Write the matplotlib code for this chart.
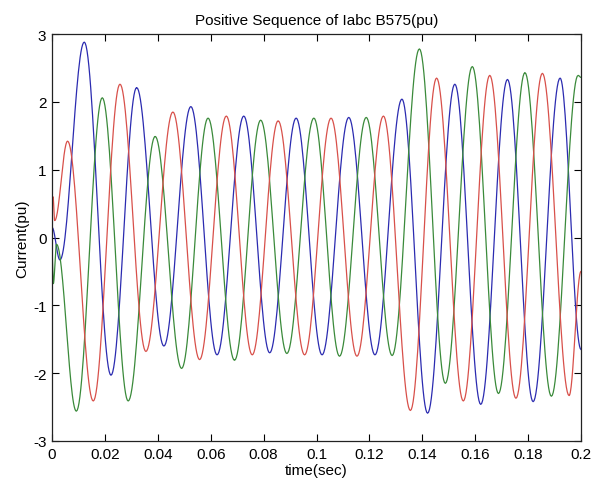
import numpy as np
import matplotlib
matplotlib.use("Agg")
import matplotlib.pyplot as plt

plt.rcParams['font.family'] = ['Liberation Sans', 'DejaVu Sans']
plt.rcParams['axes.unicode_minus'] = False

# Extrema (time in s, current in pu) for each phase
red_t = [0.0, 0.0004, 0.0010, 0.0059, 0.0156, 0.0257, 0.0355, 0.0457, 0.0558, 0.0659,
         0.0757, 0.0855, 0.0955, 0.1055, 0.1153, 0.1253, 0.1355, 0.1454, 0.1555, 0.1655,
         0.1754, 0.1854, 0.1955, 0.2]
red_v = [0.45, 0.6, 0.25, 1.42, -2.41, 2.26, -1.68, 1.85, -1.80, 1.79,
         -1.73, 1.72, -1.73, 1.76, -1.75, 1.79, -2.55, 2.35, -2.41, 2.39,
         -2.37, 2.42, -2.33, -0.5]

blue_t = [0.0, 0.003, 0.0122, 0.0223, 0.032, 0.0423, 0.0525, 0.0624, 0.0725, 0.0823,
          0.0923, 0.1021, 0.1122, 0.1221, 0.1323, 0.142, 0.1523, 0.1621, 0.1722, 0.1819,
          0.1921, 0.2]
blue_v = [0.15, -0.33, 2.88, -2.03, 2.21, -1.60, 1.93, -1.73, 1.79, -1.70,
          1.76, -1.73, 1.77, -1.73, 2.04, -2.59, 2.26, -2.46, 2.33, -2.42,
          2.35, -1.65]

green_t = [0.0, 0.0005, 0.0017, 0.0092, 0.019, 0.0288, 0.039, 0.049, 0.059, 0.069,
           0.0789, 0.0888, 0.099, 0.1087, 0.1188, 0.1286, 0.1389, 0.1487, 0.1589, 0.1688,
           0.1788, 0.1888, 0.1989, 0.2]
green_v = [-0.2, -0.68, -0.1, -2.56, 2.06, -2.41, 1.49, -1.93, 1.76, -1.81,
           1.73, -1.71, 1.76, -1.75, 1.77, -1.74, 2.78, -2.15, 2.52, -2.30,
           2.43, -2.34, 2.39, 2.36]

xticks = [0, 0.02, 0.04, 0.06, 0.08, 0.1, 0.12, 0.14, 0.16, 0.18, 0.2]
xticklabels = ['0', '0.02', '0.04', '0.06', '0.08', '0.1', '0.12', '0.14', '0.16', '0.18', '0.2']
yticks = [-3, -2, -1, 0, 1, 2, 3]


def wave(ts, vs, n=30):
    """Trace a waveform through successive extrema using half-cosine arcs."""
    out_t, out_v = [], []
    s = np.linspace(0, 1, n)
    for i in range(len(ts) - 1):
        a, b = vs[i], vs[i + 1]
        out_t.extend(ts[i] + (ts[i + 1] - ts[i]) * s)
        out_v.extend(a + (b - a) * (1 - np.cos(np.pi * s)) / 2)
    return np.array(out_t), np.array(out_v)


fig = plt.figure(figsize=(5.94, 4.89), dpi=100)
fig.patch.set_facecolor('white')
ax = fig.add_axes([52 / 594, 47 / 489, 529 / 594, 407 / 489])

for ts, vs, c in [(blue_t, blue_v, '#2b2bb0'), (green_t, green_v, '#3a8a3a'), (red_t, red_v, '#d8504a')]:
    t, v = wave(ts, vs)
    ax.plot(t, v, color=c, linewidth=0.9)

ax.set_xlim(0, 0.2)
ax.set_ylim(-3, 3)
ax.set_xticks(xticks)
ax.set_xticklabels(xticklabels)
ax.set_yticks(yticks)
ax.tick_params(direction='in', length=5, top=True, right=True, labelsize=11, pad=4, width=0.8)
for sp in ax.spines.values():
    sp.set_linewidth(0.9)
    sp.set_color('#222222')
ax.set_title('Positive Sequence of Iabc B575(pu)', fontsize=11, pad=7)
ax.set_xlabel('time(sec)', fontsize=11, labelpad=2)
ax.set_ylabel('Current(pu)', fontsize=11, labelpad=3)

fig.savefig('out.png', dpi=100, facecolor='white')
